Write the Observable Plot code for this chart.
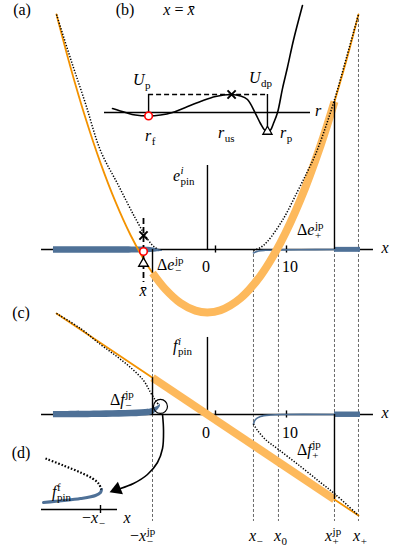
<!DOCTYPE html>
<html><head><meta charset="utf-8">
<script src="https://cdn.jsdelivr.net/npm/d3@7"></script>
<script src="https://cdn.jsdelivr.net/npm/@observablehq/plot@0.6"></script>
<style>
html,body{margin:0;padding:0;background:#fff;}
#fig{position:relative;width:415px;height:553px;overflow:hidden;}
#fig svg{position:absolute;left:0;}
#fig svg text.lbl{font-family:"Liberation Serif","DejaVu Serif",serif !important;}
</style></head><body><div id="fig"></div>
<script>
// ---------- key abscissas (x units, ticks 0 and 10) ----------
const xTicks = [0, 10];
const xTickLabels = ["0", "10"];
const xTickLabelShift = [-1.27, 0.56];
const xAxisStart = -24.5, xAxisEnd = 22.25;
const xVertAxis = -1.13;
const xBar = -10.14;
const xMinusJp = -8.87, xMinus = 5.35, x0 = 8.87, xPlusJp = 16.76, xPlus = 20.14;
const offsetC = -23.24;          // panel (c) baseline in the shared vertical units
const eAxisTop = 11.83, fAxisTop = 10.85;
const guideTop = 33.10, guideBottom = -38.31;

// ---------- panel (a): energies e_pin^i ----------
const orThinLA_x = [-22.39,-20.42,-18.31,-16.20,-14.08,-11.97,-9.86,-8.87];
const orThinLA_e = [33.10,25.68,18.52,12.20,6.70,2.04,-1.80,-3.31];
const orThickA_x = [-8.87,-7.04,-4.93,-2.82,-1.13,0.70,3.52,6.34,9.15,11.97,14.79,16.76];
const orThickA_e = [-3.31,-5.62,-7.54,-8.61,-8.87,-8.56,-6.87,-3.70,0.94,7.04,14.63,20.82];
const orThinRA_x = [16.76,18.45,20.14];
const orThinRA_e = [20.82,26.69,33.10];
const dotLA_x = [-22.39,-20.42,-18.31,-16.20,-13.66,-11.27,-9.44,-8.59,-8.03];
const dotLA_e = [33.10,26.90,20.56,13.94,9.01,4.37,1.27,0.35,0];
const dotRA_x = [5.35,6.34,7.32,9.58,11.55,12.96,14.08,15.49,16.90,18.45,20.14];
const dotRA_e = [-0.14,0.28,1.13,4.37,8.17,10.99,13.38,17.18,21.55,27.04,33.10];
const blueLA_x = [-22.82,-10.56,-9.15,-8.31,-7.46];
const blueLA_top = [0.38,0.35,0.28,0.14,-0.2];
const blueLA_bot = [-0.52,-0.49,-0.42,-0.35,-0.3];
const blueThinRA_x = [5.35,6.06,7.04,9.15,11.97,16.76];
const blueThinRA_e = [-0.49,-0.21,-0.11,-0.06,-0.03,0];
const blueRA_x = [16.76,20.42];
const blueRA_top = [0.3,0.3];
const blueRA_bot = [-0.4,-0.4];
const jpA_e = [-3.31, 20.82];            // Δe_-^jp, Δe_+^jp ends
const barMarks_e = [1.97, -0.28, -1.97];  // unstable ×, free ○, pinned △ at x̄
const barDash_e = [4.37, -4.65];

// ---------- panel (c): forces f_pin^i ----------
const orThinLC_x = [-22.39,-8.87], orThinLC_f = [14.23,5.18];
const orThickC_x = [-8.87,16.76], orThickC_f = [5.18,-11.97];
const orThinRC_x = [16.76,20.14], orThinRC_f = [-11.97,-14.23];
const dotLC_x = [-22.39,-19.01,-16.20,-14.08,-11.97,-10.14,-9.15,-8.45,-8.03];
const dotLC_f = [14.23,12.11,9.86,8.31,6.62,4.79,3.10,1.97,1.41];
const dotRC_x = [5.35,5.92,7.04,8.87,11.97,14.79,16.90,20.14];
const dotRC_f = [-1.35,-2.25,-3.52,-4.93,-7.32,-9.58,-11.27,-14.23];
const blueLC_x = [-22.82,-16.20,-9.86,-8.87,-8.17,-7.75];
const blueLC_top = [0.42,0.49,0.70,0.85,1.13,1.48];
const blueLC_bot = [-0.46,-0.42,-0.21,0,0.56,1.13];
const blueThinRC_x = [5.35,5.63,6.34,7.75,9.86,16.76];
const blueThinRC_f = [-1.35,-0.70,-0.28,-0.07,0,0];
const blueRC_x = [16.76,20.42];
const blueRC_top = [0.35,0.35];
const blueRC_bot = [-0.42,-0.42];
const jpC_f = [5.18, -11.97];
const zoomCircle = {x: -7.75, f: 1.13};
const arrow_x = [-7.46,-7.32,-7.46,-8.17,-9.58,-11.55,-13.38];
const arrow_v = [-23.24,-25.49,-28.03,-30.0,-31.69,-32.96,-33.66];
const arrowHead = {x: -13.9, v: -33.8};

// ---------- inset (b): potential U(r) at x = x̄ ----------
const rB = [0.39,1.02,1.50,2.14,2.72,3.30,3.93,4.66,5.39,6.17,6.60,6.94,7.33,7.57,7.77,7.91,8.06,8.20,8.40,8.64,8.88,9.17,9.61];
const UB = [0.22,0,-0.14,-0.19,-0.14,0,0.28,0.61,0.89,1.0,0.92,0.72,-0.06,-0.61,-0.97,-1.06,-0.97,-0.61,0,1.33,2.5,4.0,5.94];
const rF = 2.14, rUS = 6.17, rP = 7.91, Ubar = 1.0, UrF = -0.19, UrP = -1.06;
const rAxis = [0, 10];

// ---------- inset (d): free branch near -x_- ----------
const dotD_x = [-5.5,-3.7,-2.0,-0.8,-0.2,0.1];
const dotD_f = [5.1,4.4,3.7,3.1,2.6,2.0];
const blueD_x = [-5.7,-2.0,-0.5,0,0.1];
const blueD_f = [0.7,1.1,1.4,1.7,2.0];
const dAxis = [-5.9, 1.7];

// ---------- styles ----------
const ORANGE = "#f39200", ORANGE_L = "#fdb95c", BLUE = "#4f7197";
const FONT = "'Liberation Serif','DejaVu Serif',serif";

const pts = (xs, ys, off = 0) => xs.map((x, i) => ({x, y: ys[i] + off}));
const band = (xs, t, b, off = 0) => xs.map((x, i) => ({x, y1: t[i] + off, y2: b[i] + off}));
const cr = "catmull-rom";

const fig = document.getElementById("fig");

const thin = (d) => Plot.line(d, {x: "x", y: "y", stroke: ORANGE, strokeWidth: 1.8, curve: cr});
const thick = (d) => Plot.line(d, {x: "x", y: "y", stroke: ORANGE_L, strokeWidth: 8, strokeLinecap: "butt", curve: cr});
const dotted = (d) => Plot.line(d, {x: "x", y: "y", stroke: "black", strokeWidth: 1.5, strokeDasharray: "1.3,1.6", strokeLinecap: "butt", curve: cr});
const blueBand = (d) => Plot.areaY(d, {x: "x", y1: "y1", y2: "y2", fill: BLUE, curve: cr});
const blueThin = (d) => Plot.line(d, {x: "x", y: "y", stroke: BLUE, strokeWidth: 1.6, curve: cr});
const guide = {stroke: "#444", strokeWidth: 0.8, strokeDasharray: "3,2"};
const solid = {stroke: "black", strokeWidth: 1.4};

const main = Plot.plot({
  width: 415, height: 553, margin: 0,
  x: {domain: [-30.28, 28.17], axis: null},
  y: {domain: [-42.82, 35.07], axis: null},
  style: {background: "white"},
  marks: [
    Plot.ruleX([xMinusJp, xMinus, x0, xPlusJp], {y1: 0, y2: guideBottom, ...guide}),
    Plot.ruleX([xPlus], {y1: guideTop, y2: guideBottom, ...guide}),
    Plot.ruleY([0, offsetC], {x1: xAxisStart, x2: xAxisEnd, ...solid}),
    Plot.ruleX([xVertAxis], {y1: 0, y2: eAxisTop, ...solid}),
    Plot.ruleX([xVertAxis], {y1: offsetC, y2: offsetC + fAxisTop, ...solid}),
    Plot.ruleX(xTicks, {y1: -0.5, y2: 0.5, ...solid}),
    Plot.ruleX(xTicks, {y1: offsetC - 0.5, y2: offsetC + 0.5, ...solid}),
    // panel (a)
    blueBand(band(blueLA_x, blueLA_top, blueLA_bot)),
    blueThin(pts(blueThinRA_x, blueThinRA_e)),
    blueBand(band(blueRA_x, blueRA_top, blueRA_bot)),
    thin(pts(orThinLA_x, orThinLA_e)),
    thin(pts(orThinRA_x, orThinRA_e)),
    thick(pts(orThickA_x, orThickA_e)),
    dotted(pts(dotLA_x, dotLA_e)),
    dotted(pts(dotRA_x, dotRA_e)),
    Plot.ruleX([xMinusJp], {y1: 0, y2: jpA_e[0], ...solid}),
    Plot.ruleX([xPlusJp], {y1: 0, y2: jpA_e[1], ...solid}),
    Plot.ruleX([xBar], {y1: barDash_e[0], y2: barDash_e[1], stroke: "black", strokeWidth: 1.8, strokeDasharray: "6,3"}),
    Plot.dot([{x: xBar, y: barMarks_e[0]}], {x: "x", y: "y", symbol: "times", r: 3.8, stroke: "black", strokeWidth: 2}),
    Plot.dot([{x: xBar, y: barMarks_e[1]}], {x: "x", y: "y", r: 3.8, stroke: "red", fill: "white", strokeWidth: 1.6}),
    Plot.dot([{x: xBar, y: barMarks_e[2]}], {x: "x", y: "y", symbol: "triangle", r: 3.6, stroke: "black", fill: "white", strokeWidth: 1.3}),
    // panel (c)
    blueBand(band(blueLC_x, blueLC_top, blueLC_bot, offsetC)),
    blueThin(pts(blueThinRC_x, blueThinRC_f, offsetC)),
    blueBand(band(blueRC_x, blueRC_top, blueRC_bot, offsetC)),
    Plot.line(pts(orThinLC_x, orThinLC_f, offsetC), {x: "x", y: "y", stroke: ORANGE, strokeWidth: 1.8}),
    Plot.line(pts(orThinRC_x, orThinRC_f, offsetC), {x: "x", y: "y", stroke: ORANGE, strokeWidth: 1.8}),
    Plot.line(pts(orThickC_x, orThickC_f, offsetC), {x: "x", y: "y", stroke: ORANGE_L, strokeWidth: 8, strokeLinecap: "butt"}),
    dotted(pts(dotLC_x, dotLC_f, offsetC)),
    dotted(pts(dotRC_x, dotRC_f, offsetC)),
    Plot.ruleX([xMinusJp], {y1: offsetC, y2: offsetC + jpC_f[0], ...solid}),
    Plot.ruleX([xPlusJp], {y1: offsetC, y2: offsetC + jpC_f[1], ...solid}),
    Plot.dot([{x: zoomCircle.x, y: zoomCircle.f + offsetC}], {x: "x", y: "y", r: 7, stroke: "black", fill: "none", strokeWidth: 1.2}),
    Plot.line(pts(arrow_x, arrow_v), {x: "x", y: "y", stroke: "black", strokeWidth: 1.6, curve: cr}),
    Plot.dot([arrowHead], {x: "x", y: "v", symbol: "triangle", r: 5, fill: "black", stroke: "none", rotate: -112})
  ]
});
main.style.top = "0px";
fig.appendChild(main);

const insetB = Plot.plot({
  width: 415, height: 150, margin: 0,
  x: {domain: [-5.049, 15.097], axis: null},
  y: {domain: [-2.111, 6.222], axis: null},
  style: {background: "transparent"},
  marks: [
    Plot.ruleY([0], {x1: rAxis[0], x2: rAxis[1], ...solid}),
    Plot.ruleY([Ubar], {x1: rF, x2: rP, stroke: "black", strokeWidth: 1.4, strokeDasharray: "5,3"}),
    Plot.ruleX([rF], {y1: 0, y2: Ubar, ...solid}),
    Plot.ruleX([rP], {y1: UrP, y2: Ubar, ...solid}),
    Plot.line(pts(rB, UB), {x: "x", y: "y", stroke: "black", strokeWidth: 1.6, curve: cr}),
    Plot.dot([{x: rF, y: UrF}], {x: "x", y: "y", r: 3.8, stroke: "red", fill: "white", strokeWidth: 1.6}),
    Plot.dot([{x: rUS, y: Ubar}], {x: "x", y: "y", symbol: "times", r: 3.8, stroke: "black", strokeWidth: 2}),
    Plot.dot([{x: rP, y: UrP}], {x: "x", y: "y", symbol: "triangle", r: 3.4, stroke: "black", fill: "white", strokeWidth: 1.3})
  ]
});
insetB.style.top = "0px";
fig.appendChild(insetB);

const insetD = Plot.plot({
  width: 415, height: 100, margin: 0,
  x: {domain: [-10, 31.5], axis: null},
  y: {domain: [-3.1, 6.9], axis: null},
  style: {background: "transparent"},
  marks: [
    Plot.ruleY([0], {x1: dAxis[0], x2: dAxis[1], ...solid}),
    Plot.ruleX([0], {y1: -0.4, y2: 0.4, ...solid}),
    Plot.line(pts(blueD_x, blueD_f), {x: "x", y: "y", stroke: BLUE, strokeWidth: 3, curve: cr}),
    Plot.line(pts(dotD_x, dotD_f), {x: "x", y: "y", stroke: "black", strokeWidth: 2.2, strokeDasharray: "1.6,1.8", strokeLinecap: "butt", curve: cr})
  ]
});
insetD.style.top = "440px";
fig.appendChild(insetD);

// ---------- text labels (LaTeX-like pieces) ----------
function piece(g, str, x, y, size, italic) {
  const el = g.append("text").attr("class", "lbl").attr("x", x).attr("y", y)
    .style("font-family", FONT).style("font-size", size + "px")
    .style("font-style", italic ? "italic" : "normal")
    .attr("text-anchor", "start").attr("fill", "black").attr("stroke", "none").text(str);
  return el.node().getComputedTextLength();
}
function label(plot, xv, yv, segs, anchor) {
  const px = plot.scale("x").apply(xv), py = plot.scale("y").apply(yv);
  const g = d3.select(plot).append("g");
  let cx = 0;
  for (const s of segs) {
    cx += piece(g, s.b, cx, 0, 16, s.i);
    let w = 0;
    if (s.sup) w = Math.max(w, piece(g, s.sup, cx + 0.5, -6.5, 11, s.supi));
    if (s.sub) w = Math.max(w, piece(g, s.sub, cx + 0.5, 4, 11, false));
    if (w) cx += w + 1;
  }
  const dx = anchor === "middle" ? -cx / 2 : 0;
  g.attr("transform", `translate(${px + dx},${py})`);
}
const R = (b) => ({b}), I = (b, o = {}) => ({b, i: true, ...o});

const mainLabels = [
  [-27.18, 32.96, [R("(a)")], "middle"],
  [-12.68, 32.96, [R("(b)")], "middle"],
  [-5.07, 32.96, [I("x"), R(" = "), I("x\u0304")], "middle"],
  [-5.92, 9.58, [I("e", {sup: "i", supi: true, sub: "pin"})], "start"],
  [-8.17, -2.96, [R("Δ"), I("e", {sup: "jp", sub: "−"})], "start"],
  [11.55, 1.97, [R("Δ"), I("e", {sup: "jp", sub: "+"})], "start"],
  [23.94, -0.56, [I("x")], "middle"],
  [-10.14, -6.62, [I("x\u0304")], "middle"],
  [-27.32, -9.72, [R("(c)")], "middle"],
  [-5.92, -14.37, [I("f", {sup: "i", supi: true, sub: "pin"})], "start"],
  [-14.79, -21.97, [R("Δ"), I("f", {sup: "jp", sub: "−"})], "start"],
  [23.94, -23.80, [I("x")], "middle"],
  [11.55, -29.01, [R("Δ"), I("f", {sup: "jp", sub: "+"})], "start"],
  [-27.32, -29.44, [R("(d)")], "middle"],
  [-11.97, -41.13, [R("−"), I("x", {sup: "jp", sub: "−"})], "start"],
  [4.79, -41.13, [I("x", {sub: "−"})], "start"],
  [8.31, -41.13, [I("x", {sub: "0"})], "start"],
  [15.49, -41.13, [I("x", {sup: "jp", sub: "+"})], "start"],
  [19.44, -41.13, [I("x", {sub: "+"})], "start"]
];
for (const [xv, yv, segs, a] of mainLabels) label(main, xv, yv, segs, a);
xTicks.forEach((t, i) => {
  label(main, t + xTickLabelShift[i], -3.24, [R(xTickLabels[i])], "middle");
  label(main, t + xTickLabelShift[i], offsetC - 3.38, [R(xTickLabels[i])], "middle");
});
const bLabels = [
  [1.41, 1.5, [I("U", {sub: "p"})]],
  [7.04, 1.61, [I("U", {sub: "dp"})]],
  [1.99, -1.61, [I("r", {sub: "f"})]],
  [5.53, -1.44, [I("r", {sub: "us"})]],
  [8.54, -1.44, [I("r", {sub: "p"})]],
  [10.24, -0.22, [I("r")]]
];
for (const [xv, yv, segs] of bLabels) label(insetB, xv, yv, segs, "start");
const dLabels = [
  [-4.8, 1.2, [I("f", {sup: "f", sub: "pin"})], "start"],
  [-1.8, -1.4, [R("−"), I("x", {sub: "−"})], "start"],
  [2.7, -1.4, [I("x")], "middle"]
];
for (const [xv, yv, segs, a] of dLabels) label(insetD, xv, yv, segs, a);
</script></body></html>
